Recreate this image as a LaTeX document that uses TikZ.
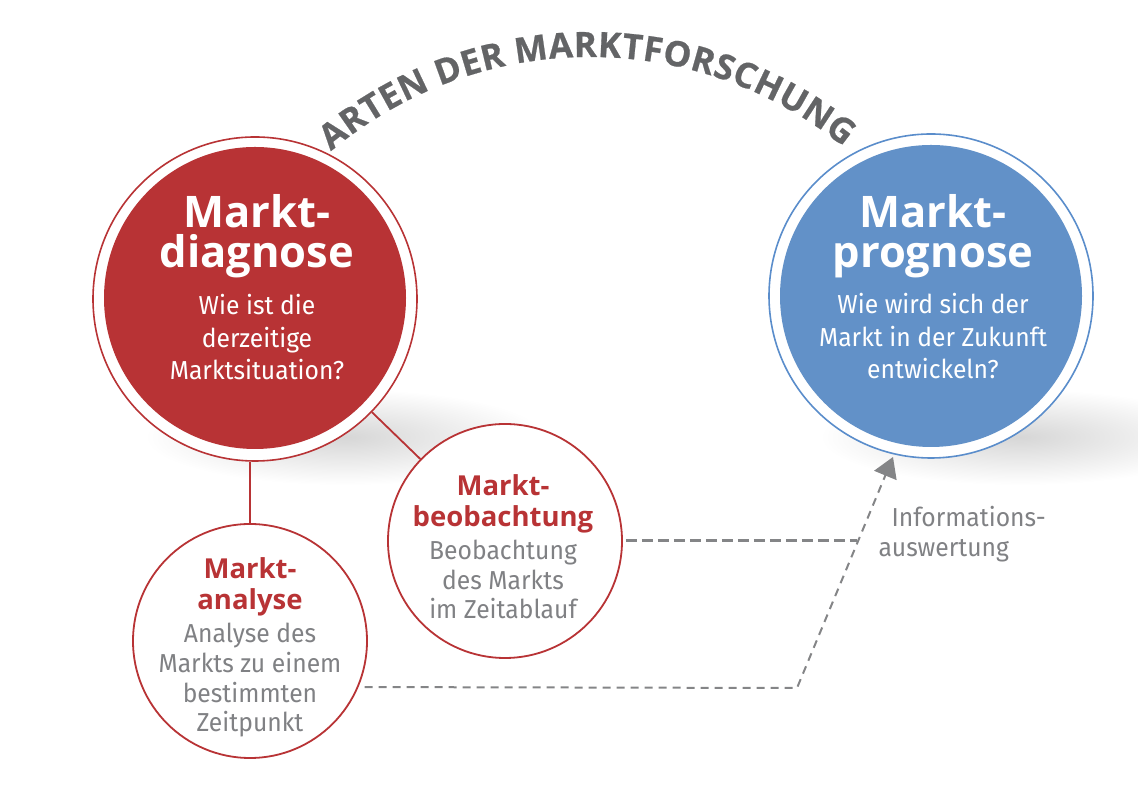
\documentclass[tikz,border=0pt]{standalone}
\usepackage{fontspec}
\setmainfont{Fira Sans}
\newfontfamily\bodyfont[FakeStretch=0.95]{Fira Sans}
\newfontfamily\headfont{Open Sans}
\newfontfamily\titlefont[FakeBold=0.6]{Open Sans}
\usetikzlibrary{decorations.text,arrows.meta,calc}
\definecolor{mred}{RGB}{184,51,53}
\definecolor{mblue}{RGB}{98,145,200}
\definecolor{mblueline}{RGB}{90,141,203}
\definecolor{tgray}{RGB}{128,129,132}
\definecolor{titlegray}{RGB}{99,100,102}
\definecolor{dgray}{RGB}{132,133,135}
\begin{document}
\begin{tikzpicture}[x=1pt,y=1pt,
  bigring/.style={circle, draw=#1, line width=1.6pt, fill=white, minimum size=324pt, inner sep=0pt},
  bigdisk/.style={circle, fill=#1, minimum size=302pt, inner sep=0pt},
  smallring/.style={circle, draw=mred, line width=1.8pt, fill=white, minimum size=234pt, inner sep=0pt},
  bighead/.style={anchor=base, align=center, text=white, font=\headfont\bfseries\fontsize{43.5}{40}\selectfont},
  bigbody/.style={anchor=base, align=center, text=white, font=\bodyfont\fontsize{26}{32.5}\selectfont},
  smallhead/.style={anchor=base, align=center, text=mred, font=\headfont\bfseries\fontsize{27.5}{31}\selectfont},
  smallbody/.style={anchor=base, align=center, text=tgray, font=\bodyfont\fontsize{26}{29.7}\selectfont},
  link/.style={draw=mred, line width=1.8pt},
  infoflow/.style={draw=dgray, line width=2pt, dash pattern=on 8pt off 6pt},
  infoflowthick/.style={draw=dgray, line width=3pt, dash pattern=on 11pt off 5pt},
  infotext/.style={anchor=base west, text=tgray, font=\bodyfont\fontsize{26}{30}\selectfont},
  shadowblob/.style={inner color=black!16, outer color=white}
]
\useasboundingbox (0,0) rectangle (1138,786);
% soft shadows
\shade[shadowblob] (345,349) ellipse[x radius=200, y radius=48];
\shade[shadowblob] (1020,349) ellipse[x radius=200, y radius=48];
% big circles
\node[bigring=mred] (red) at (255,487) {};
\node[bigdisk=mred] (reddisk) at (255,488) {};
\node[bigring=mblueline] (blue) at (931,490) {};
\node[bigdisk=mblue] (bluedisk) at (931,490) {};
% small circles
\node[smallring] (analyse) at (250,145) {};
\node[smallring] (beob) at (505,245) {};
% connectors
\draw[link] (analyse.north) -- (analyse.north |- red.south);
\draw[link] (red) -- (beob);
% texts (anchor base = last line)
\node[bighead] (redhead) at (257,518) {Markt-\\diagnose};
\node[bigbody] (redbody) at (257,406) {Wie ist die\\derzeitige\\Marktsituation?};
\node[bighead] (bluehead) at (933,518) {Markt-\\prognose};
\node[bigbody] (bluebody) at (933,407) {Wie wird sich der\\Markt in der Zukunft\\entwickeln?};
\node[smallhead] (anahead) at (250,176) {Markt-\\analyse};
\node[smallbody] (anabody) at (250,54) {Analyse des\\Markts zu einem\\bestimmten\\Zeitpunkt};
\node[smallhead] (beobhead) at (503,259) {Markt-\\beobachtung};
\node[smallbody] (beobbody) at (503,167) {Beobachtung\\des Markts\\im Zeitablauf};
% title
\path[decorate, decoration={text along path, text align={fit to path},
  text={|\titlefont\bfseries\fontsize{35}{35}\selectfont\color{titlegray}|ARTEN DER MARKTFORSCHUNG}}]
  ($(590,326)+(130:403)$) arc[start angle=130, end angle=51, radius=403];
% information flow
\coordinate (corner) at (797,98);
\coordinate (tip) at (893,329);
\coordinate (join) at ($(corner)!0.63!(tip)$);
\draw[infoflow, -{Triangle[length=20pt,width=24pt]}] ([xshift=6pt]analyse.-23.7) -- (corner) -- (tip);
\draw[infoflowthick] ([xshift=3pt]beob.east) -- (beob.east -| join);
\node[infotext] (info1) at (888,259) {Informations-};
\node[infotext] (info2) at (875,229) {auswertung};
\end{tikzpicture}
\end{document}
